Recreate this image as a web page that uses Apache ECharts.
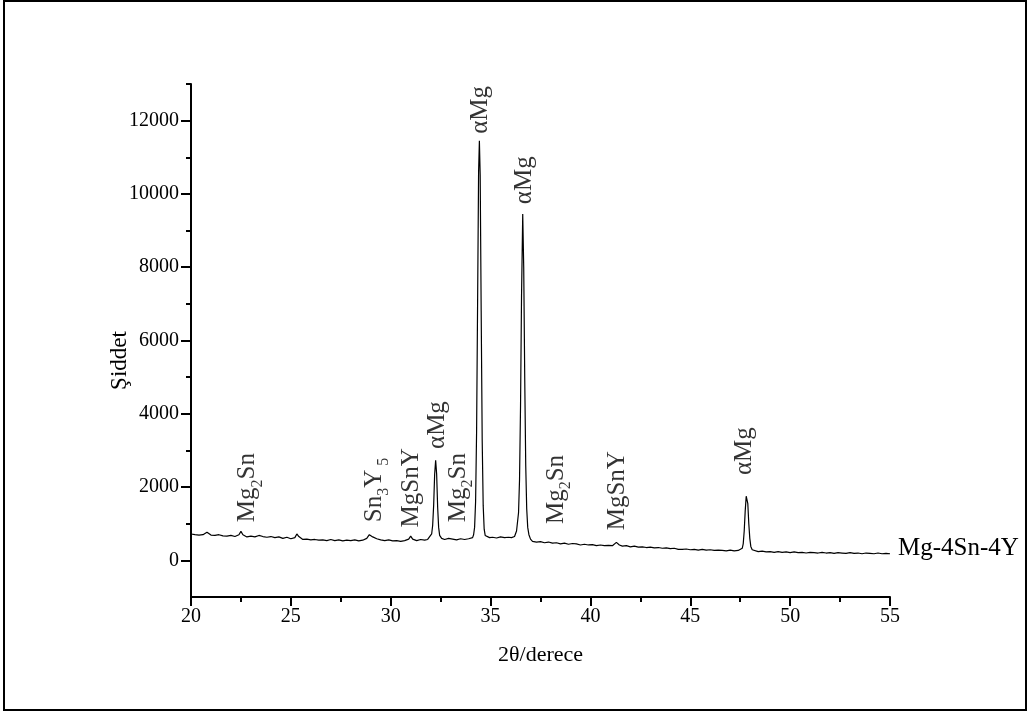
<!DOCTYPE html>
<html>
<head>
<meta charset="utf-8">
<script src="https://cdn.jsdelivr.net/npm/echarts/dist/echarts.min.js"></script>
<style>
html,body{margin:0;padding:0;background:#fff;}
#chart{width:1031px;height:716px;}
</style>
</head>
<body>
<div id="chart"></div>
<script>
// XRD scan: [2theta (deg), intensity]
var scan = [
[20.0,720],[20.2,700],[20.4,690],[20.6,700],[20.8,770],[21.0,690],[21.2,680],[21.4,700],[21.6,670],[21.8,660],
[22.0,680],[22.2,650],[22.4,700],[22.5,790],[22.6,700],[22.8,640],[23.0,660],[23.2,640],[23.4,680],[23.6,650],
[23.8,630],[24.0,650],[24.2,620],[24.4,640],[24.6,600],[24.8,630],[25.0,590],[25.2,620],[25.3,720],[25.4,650],
[25.6,570],[25.8,580],[26.0,560],[26.2,570],[26.4,550],[26.6,560],[26.8,540],[27.0,570],[27.2,540],[27.4,560],
[27.6,530],[27.8,550],[28.0,540],[28.2,560],[28.4,530],[28.6,550],[28.8,600],[28.93,700],[29.1,640],[29.3,590],
[29.5,560],[29.7,540],[29.9,560],[30.1,530],[30.3,540],[30.5,520],[30.7,540],[30.9,580],[31.0,660],[31.1,580],
[31.3,540],[31.5,570],[31.7,550],[31.85,570],
[31.95,600],[32.05,720],[32.1,950],[32.15,1500],[32.2,2350],[32.25,2730],[32.3,2350],[32.35,1450],[32.4,900],[32.45,680],[32.55,600],
[32.7,570],[32.9,600],[33.1,580],[33.3,560],[33.5,590],[33.7,570],[33.9,590],[34.0,610],
[34.1,620],[34.15,700],[34.2,900],[34.25,1600],[34.3,3500],[34.35,7000],[34.4,10600],[34.44,11450],[34.48,10500],[34.53,6800],
[34.58,3300],[34.63,1500],[34.68,850],[34.73,680],[34.8,640],
[34.95,620],[35.1,630],[35.3,610],[35.5,640],[35.7,620],[35.9,630],[36.05,620],
[36.2,650],[36.3,800],[36.4,1300],[36.45,2200],[36.5,4200],[36.55,7200],[36.61,9450],[36.66,8000],[36.71,5000],[36.76,2600],
[36.81,1400],[36.86,900],[36.92,700],[37.0,580],[37.1,520],
[37.3,500],[37.5,510],[37.7,480],[37.9,500],[38.1,470],[38.3,480],[38.5,450],[38.7,470],[38.9,440],[39.1,460],
[39.3,450],[39.5,420],[39.7,440],[39.9,420],[40.1,430],[40.3,400],[40.5,420],[40.7,400],[40.9,410],[41.1,400],
[41.3,490],[41.45,420],[41.6,390],[41.8,400],[42.0,370],[42.2,390],[42.4,360],[42.6,370],[42.8,350],[43.0,360],
[43.2,340],[43.4,350],[43.6,330],[43.8,340],[44.0,320],[44.2,330],[44.4,300],[44.6,300],[44.8,310],[45.0,290],
[45.2,300],[45.4,280],[45.6,300],[45.8,280],[46.0,290],[46.2,270],[46.4,280],[46.6,270],[46.8,260],[47.0,280],
[47.2,260],[47.4,270],
[47.5,270],[47.6,330],[47.65,450],[47.7,800],[47.75,1350],[47.8,1750],[47.83,1790],[47.88,1550],[47.93,1000],[47.98,600],
[48.03,380],[48.1,290],[48.2,250],
[48.4,240],[48.6,250],[48.8,230],[49.0,240],[49.2,220],[49.4,240],[49.6,220],[49.8,230],[50.0,210],[50.2,230],
[50.4,210],[50.6,220],[50.8,200],[51.0,220],[51.2,210],[51.4,200],[51.6,220],[51.8,200],[52.0,210],[52.2,190],
[52.4,210],[52.6,200],[52.8,190],[53.0,210],[53.2,190],[53.4,200],[53.6,180],[53.8,200],[54.0,190],[54.2,180],
[54.4,200],[54.6,180],[54.8,190],[55.0,180]
];

// Phase labels: [2theta, intensity at start of text, rich text]
var peakLabels = [
[22.85, 1040, 'Mg{s|2}Sn'],
[29.16, 1040, 'Sn{s|3}Y{s| 5}'],
[31.02, 900, 'MgSnY'],
[32.34, 3040, 'αMg'],
[33.37, 1040, 'Mg{s|2}Sn'],
[34.48, 11640, 'αMg'],
[36.70, 9720, 'αMg'],
[38.28, 990, 'Mg{s|2}Sn'],
[41.36, 820, 'MgSnY'],
[47.72, 2330, 'αMg']
];

var sampleName = 'Mg-4Sn-4Y';
var xTitle = '2θ/derece';
var yTitle = 'Şiddet';
var yMajorTicks = [0, 2000, 4000, 6000, 8000, 10000, 12000];
var yMinorTicks = [1000, 3000, 5000, 7000, 9000, 11000, 13000];

var FONT = '"Liberation Serif", "Times New Roman", serif';

var chart = echarts.init(document.getElementById('chart'), null, {renderer: 'canvas'});

chart.setOption({
  animation: false,
  backgroundColor: '#fff',
  grid: {left: 191, right: 141, top: 84, bottom: 119, containLabel: false},
  xAxis: [{
    type: 'value', min: 20, max: 55, interval: 5,
    name: xTitle, nameLocation: 'middle', nameGap: 47, nameMoveOverlap: false,
    nameTextStyle: {fontFamily: FONT, fontSize: 22, color: '#000'},
    axisLine: {show: true, onZero: false, lineStyle: {color: '#000', width: 2}},
    axisTick: {show: true, length: 9, lineStyle: {color: '#000', width: 2}},
    minorTick: {show: true, splitNumber: 2, length: 5, lineStyle: {color: '#000', width: 2}},
    axisLabel: {fontFamily: FONT, fontSize: 20, color: '#000', margin: 10},
    splitLine: {show: false}
  }],
  yAxis: [{
    type: 'value', min: -1000, max: 13000, interval: 1000,
    name: yTitle, nameLocation: 'middle', nameGap: 60, nameRotate: 90, nameMoveOverlap: false,
    nameTextStyle: {fontFamily: FONT, fontSize: 23, color: '#000', padding: [0, 40, 0, 0]},
    axisLine: {show: true, onZero: false, lineStyle: {color: '#000', width: 2}},
    axisTick: {show: true, length: 10, customValues: yMajorTicks, lineStyle: {color: '#000', width: 2}},
    axisLabel: {fontFamily: FONT, fontSize: 20, color: '#000', margin: 12, customValues: yMajorTicks,
      formatter: function (v) { return (v >= 0 && v % 2000 === 0) ? String(v) : ''; }},
    splitLine: {show: false}
  }, {
    type: 'value', min: -1000, max: 13000, interval: 1000, position: 'left',
    axisLine: {show: false},
    axisTick: {show: true, length: 5, customValues: yMinorTicks, lineStyle: {color: '#000', width: 2}},
    axisLabel: {show: false},
    splitLine: {show: false}
  }],
  series: [{
    type: 'line',
    data: scan,
    showSymbol: false,
    symbol: 'none',
    lineStyle: {color: '#000', width: 1.2},
    itemStyle: {color: '#000'},
    endLabel: {show: true, formatter: sampleName, fontFamily: FONT, fontSize: 25, color: '#000', distance: 8, offset: [0, -5]},
    silent: true
  }, {
    type: 'scatter',
    data: peakLabels.map(function (p) { return [p[0], p[1]]; }),
    symbol: 'circle',
    symbolSize: 1,
    itemStyle: {color: 'rgba(0,0,0,0)'},
    label: {
      show: true,
      position: 'inside',
      rotate: 90,
      align: 'left',
      verticalAlign: 'middle',
      fontFamily: FONT,
      fontSize: 25,
      lineHeight: 26,
      color: '#000',
      formatter: function (params) { return peakLabels[params.dataIndex][2]; },
      rich: {
        s: {fontFamily: FONT, fontSize: 16, lineHeight: 36, verticalAlign: 'bottom', color: '#000'}
      }
    },
    labelLayout: {hideOverlap: false},
    silent: true,
    z: 5
  }],
  graphic: [{
    type: 'rect',
    shape: {x: 4, y: 1, width: 1022, height: 709},
    style: {fill: 'none', stroke: '#000', lineWidth: 2},
    silent: true,
    z: 100
  }]
});
</script>
</body>
</html>
